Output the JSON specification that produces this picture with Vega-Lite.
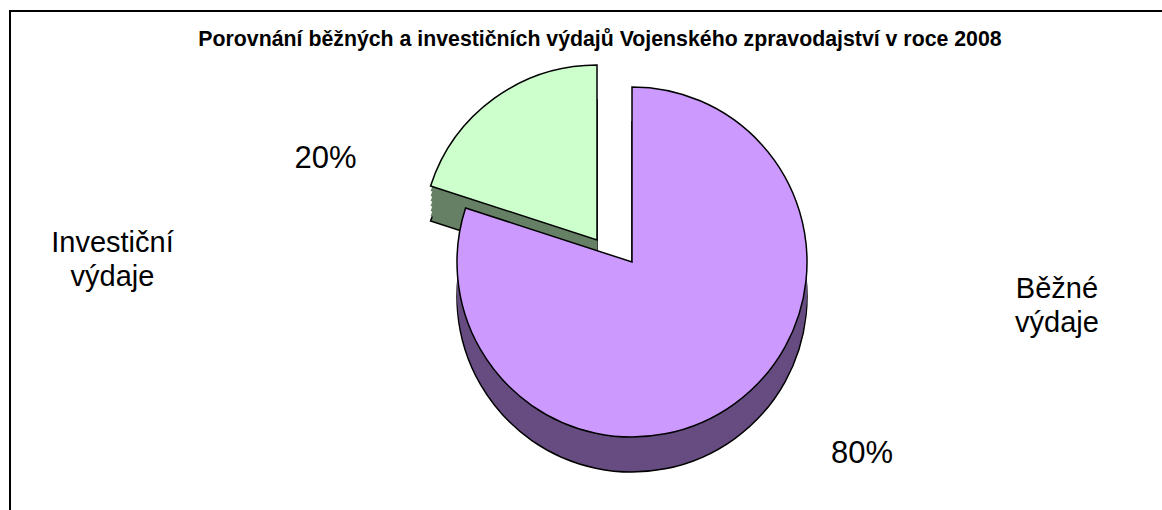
{
  "$schema": "https://vega.github.io/schema/vega-lite/v6.json",
  "width": 1244,
  "height": 502,
  "autosize": "none",
  "padding": {"left": 10, "top": 11, "right": 0, "bottom": 0},
  "background": "white",
  "view": {"stroke": "black", "strokeWidth": 2, "fill": "white"},
  "config": {"view": {"stroke": "black", "strokeWidth": 2}, "font": "Liberation Sans"},
  "title": {"text": "Porovnání běžných a investičních výdajů Vojenského zpravodajství v roce 2008", "font": "Liberation Sans", "fontSize": 21.3, "fontWeight": "bold", "color": "black", "anchor": "middle", "offset": 0, "dx": -32, "dy": 56, "baseline": "alphabetic"},
  "data": {"values": [
    {"kategorie": "Běžné výdaje", "podil": 0.8},
    {"kategorie": "Investiční výdaje", "podil": 0.2}
  ]},
  "transform": [
    {"stack": "podil", "groupby": [], "sort": [{"field": "podil", "order": "descending"}], "as": ["t0", "t1"]},
    {"calculate": "(datum.t0 + datum.t1) / 2", "as": "tm"}
  ],
  "encoding": {
    "theta": {"field": "t0", "type": "quantitative", "scale": {"domain": [0, 1]}},
    "theta2": {"field": "t1"}
  },
  "layer": [
    {"transform": [{"filter": "datum.kategorie === 'Investiční výdaje'"}], "mark": {"type": "arc", "radius": 175, "fill": "#668066", "stroke": "black", "strokeWidth": 1.5, "xOffset": -35, "yOffset": 13}},
    {"transform": [{"filter": "datum.kategorie === 'Investiční výdaje'"}], "mark": {"type": "arc", "radius": 175, "fill": "#668066", "xOffset": -35, "yOffset": 8}},
    {"transform": [{"filter": "datum.kategorie === 'Investiční výdaje'"}], "mark": {"type": "arc", "radius": 175, "fill": "#668066", "xOffset": -35, "yOffset": 3}},
    {"transform": [{"filter": "datum.kategorie === 'Investiční výdaje'"}], "mark": {"type": "arc", "radius": 175, "fill": "#668066", "xOffset": -35, "yOffset": -2}},
    {"transform": [{"filter": "datum.kategorie === 'Investiční výdaje'"}], "mark": {"type": "arc", "radius": 175, "fill": "#668066", "xOffset": -35, "yOffset": -7}},
    {"transform": [{"filter": "datum.kategorie === 'Investiční výdaje'"}], "mark": {"type": "arc", "radius": 175, "fill": "#668066", "xOffset": -35, "yOffset": -12}},
    {"transform": [{"filter": "datum.kategorie === 'Investiční výdaje'"}], "mark": {"type": "arc", "radius": 175, "fill": "#668066", "xOffset": -35, "yOffset": -17}},
    {"transform": [{"filter": "datum.kategorie === 'Investiční výdaje'"}], "mark": {"type": "arc", "radius": 175, "fill": "#CCFFCC", "stroke": "black", "strokeWidth": 1.5, "xOffset": -35, "yOffset": -22}},
    {"transform": [{"filter": "datum.kategorie === 'Běžné výdaje'"}], "mark": {"type": "arc", "radius": 175, "fill": "#664C80", "stroke": "black", "strokeWidth": 1.5, "yOffset": 35}},
    {"transform": [{"filter": "datum.kategorie === 'Běžné výdaje'"}], "mark": {"type": "arc", "radius": 175, "fill": "#664C80", "yOffset": 30}},
    {"transform": [{"filter": "datum.kategorie === 'Běžné výdaje'"}], "mark": {"type": "arc", "radius": 175, "fill": "#664C80", "yOffset": 25}},
    {"transform": [{"filter": "datum.kategorie === 'Běžné výdaje'"}], "mark": {"type": "arc", "radius": 175, "fill": "#664C80", "yOffset": 20}},
    {"transform": [{"filter": "datum.kategorie === 'Běžné výdaje'"}], "mark": {"type": "arc", "radius": 175, "fill": "#664C80", "yOffset": 15}},
    {"transform": [{"filter": "datum.kategorie === 'Běžné výdaje'"}], "mark": {"type": "arc", "radius": 175, "fill": "#664C80", "yOffset": 10}},
    {"transform": [{"filter": "datum.kategorie === 'Běžné výdaje'"}], "mark": {"type": "arc", "radius": 175, "fill": "#664C80", "yOffset": 5}},
    {"transform": [{"filter": "datum.kategorie === 'Běžné výdaje'"}], "mark": {"type": "arc", "radius": 175, "fill": "#CC99FF", "stroke": "black", "strokeWidth": 1.5}},
    {"transform": [{"filter": "datum.kategorie === 'Běžné výdaje'"}], "mark": {"type": "text", "radius": 250, "font": "Liberation Sans", "fontSize": 31, "color": "black", "align": "center", "baseline": "alphabetic", "dx": 83, "dy": -1},
     "encoding": {"theta": {"field": "tm", "type": "quantitative", "scale": {"domain": [0, 1]}}, "theta2": null, "text": {"field": "podil", "type": "quantitative", "format": ".0%"}}},
    {"transform": [{"filter": "datum.kategorie === 'Běžné výdaje'"}], "mark": {"type": "text", "radius": 250, "font": "Liberation Sans", "fontSize": 29, "color": "black", "align": "center", "baseline": "alphabetic", "lineBreak": " ", "lineHeight": 34, "dx": 278, "dy": -166},
     "encoding": {"theta": {"field": "tm", "type": "quantitative", "scale": {"domain": [0, 1]}}, "theta2": null, "text": {"field": "kategorie", "type": "nominal"}}},
    {"transform": [{"filter": "datum.kategorie === 'Investiční výdaje'"}], "mark": {"type": "text", "radius": 200, "font": "Liberation Sans", "fontSize": 31, "color": "black", "align": "center", "baseline": "alphabetic", "dx": -189, "dy": 68},
     "encoding": {"theta": {"field": "tm", "type": "quantitative", "scale": {"domain": [0, 1]}}, "theta2": null, "text": {"field": "podil", "type": "quantitative", "format": ".0%"}}},
    {"transform": [{"filter": "datum.kategorie === 'Investiční výdaje'"}], "mark": {"type": "text", "radius": 200, "font": "Liberation Sans", "fontSize": 29, "color": "black", "align": "center", "baseline": "alphabetic", "lineBreak": " ", "lineHeight": 34, "dx": -402, "dy": 152},
     "encoding": {"theta": {"field": "tm", "type": "quantitative", "scale": {"domain": [0, 1]}}, "theta2": null, "text": {"field": "kategorie", "type": "nominal"}}}
  ]
}
